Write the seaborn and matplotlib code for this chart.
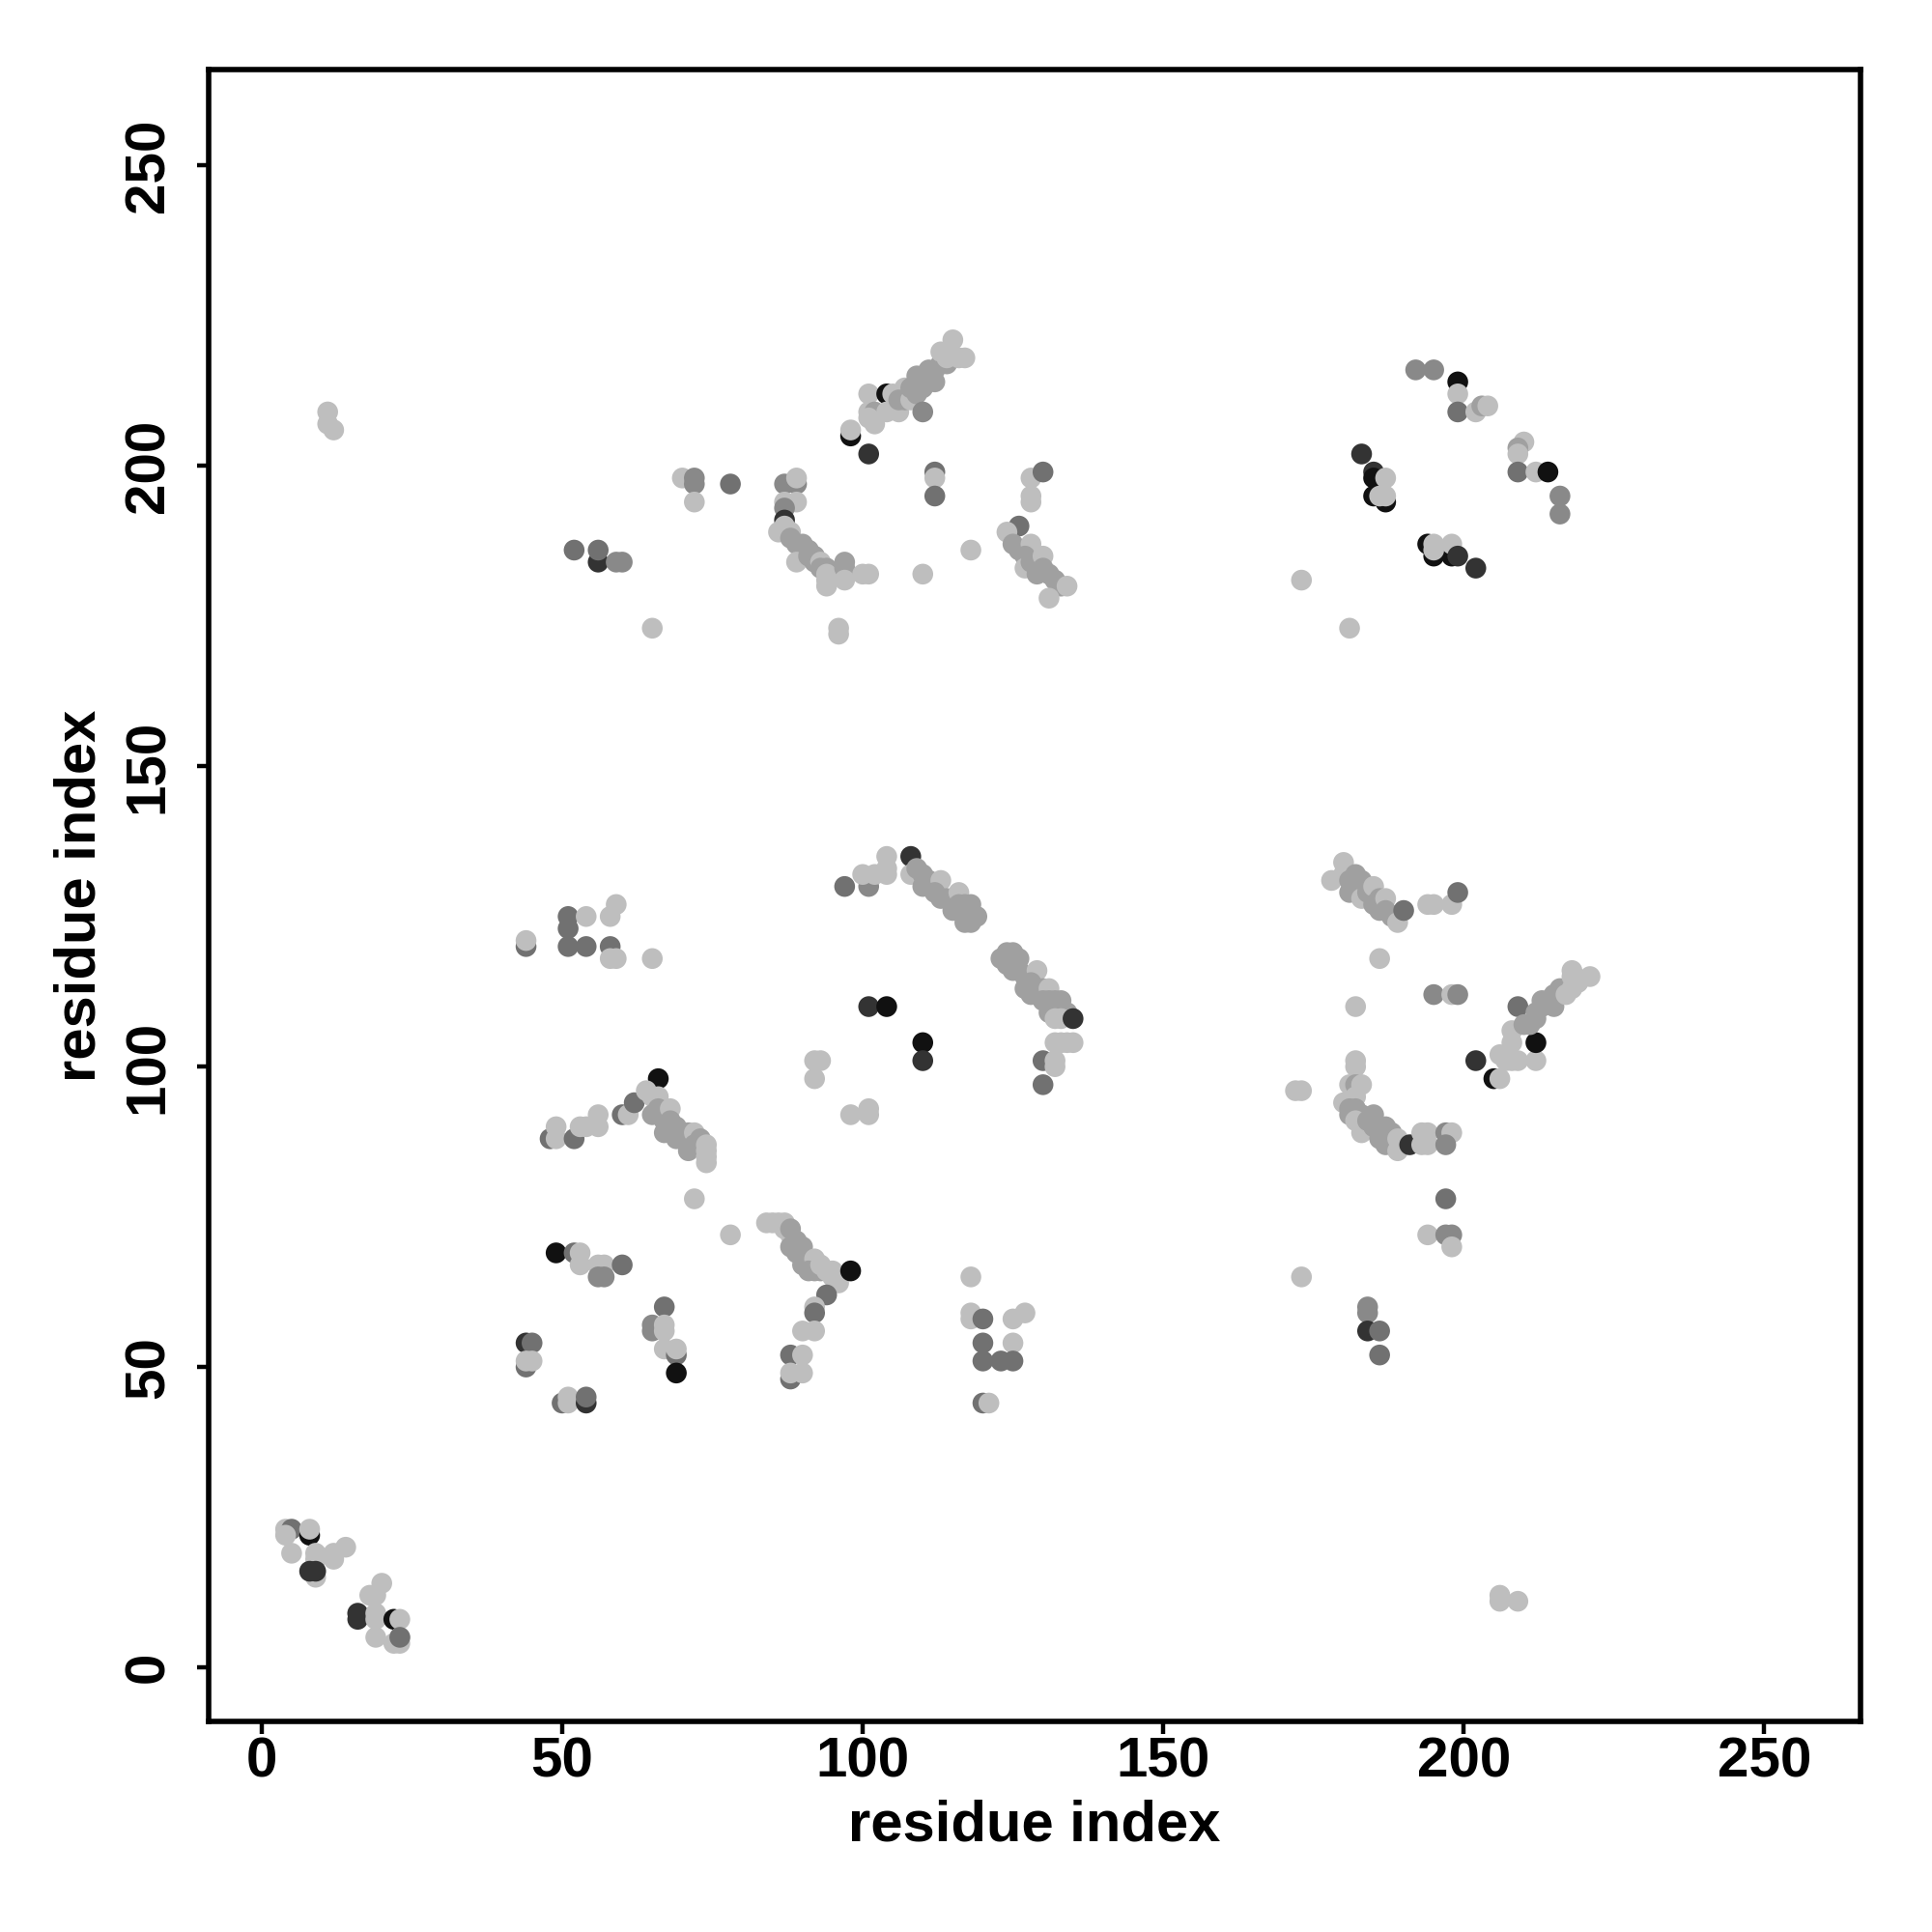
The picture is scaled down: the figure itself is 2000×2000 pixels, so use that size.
import pandas as pd
import seaborn as sns
import matplotlib.pyplot as plt

# contact points: (residue i, residue j, grey level)
# grey levels: L light, M mid, G grey, D dark grey, K near black, B black
n_term = [(4, 23, "L"), (5, 23, "D"), (4, 22, "L"), (8, 22, "B"), (8, 23, "L"),
          (5, 19, "L"), (9, 19, "L"), (9, 18, "L"), (12, 19, "L"), (14, 20, "L"),
          (12, 18, "L"), (9, 15, "L"), (8, 16, "K"), (9, 16, "K"), (20, 14, "L"),
          (18, 12, "L"), (19, 12, "L"), (16, 9, "L"), (16, 9, "K"), (16, 8, "K"),
          (19, 9, "L"), (19, 8, "L"), (22, 8, "B"), (23, 8, "L"), (19, 5, "L"),
          (22, 4, "L"), (23, 4, "L"), (23, 5, "L"), (23, 5, "D")]

lone = [(11, 209, "L"), (11, 207, "L"), (12, 206, "L"),
        (206, 12, "L"), (206, 11, "L"), (209, 11, "L"),
        (72, 78, "L"), (78, 72, "L"), (118, 65, "L"), (173, 65, "L"),
        (65, 173, "L"), (173, 181, "L"), (181, 173, "L"), (110, 182, "L"),
        (118, 186, "L"), (96, 173, "L"), (96, 172, "L"), (65, 118, "L"),
        (186, 118, "L"), (182, 110, "L")]

b1_upper = [(44, 120, "D"), (44, 121, "L"), (51, 125, "D"), (51, 123, "D"),
            (51, 120, "D"), (54, 125, "L"), (54, 120, "D"), (59, 127, "L"),
            (58, 125, "L"), (58, 120, "D"), (58, 118, "L"), (59, 118, "L")]

b1_lower = [(48, 88, "D"), (49, 88, "L"), (49, 90, "L"), (52, 88, "D"),
            (53, 90, "L"), (54, 90, "L"), (56, 92, "L"), (56, 90, "L"),
            (60, 92, "D"), (61, 92, "L"), (62, 94, "D"), (66, 98, "B"),
            (64, 96, "L"), (65, 95, "L"), (66, 95, "L"), (65, 92, "M"),
            (66, 93, "M"), (67, 91, "M"), (68, 93, "L"), (68, 91, "M"),
            (67, 89, "M"), (69, 90, "M"), (69, 88, "M"), (70, 89, "M"),
            (71, 89, "M"), (71, 86, "M"), (72, 89, "L"), (72, 87, "M"),
            (73, 88, "M"), (74, 87, "L"), (74, 86, "L"), (74, 85, "L"), (74, 84, "L")]

b2_left = [(49, 69, "B"), (52, 69, "D"), (53, 69, "L"), (53, 67, "L"),
           (56, 67, "L"), (57, 67, "L"), (56, 65, "G"), (57, 65, "G"),
           (60, 67, "D"), (44, 54, "K"), (45, 54, "D"), (44, 50, "D"),
           (44, 51, "L"), (45, 51, "L"), (50, 44, "D"), (51, 45, "L"),
           (51, 44, "L"), (54, 44, "K"), (54, 45, "D"), (67, 60, "D"),
           (65, 57, "G"), (65, 56, "G"), (67, 57, "L"), (67, 56, "L"),
           (67, 53, "L"), (69, 52, "D"), (69, 53, "L"), (69, 49, "B")]

b2_right = [(84, 74, "L"), (85, 74, "L"), (86, 74, "L"), (87, 74, "L"),
            (87, 73, "L"), (88, 72, "L"), (88, 73, "M"), (89, 71, "M"),
            (88, 70, "M"), (90, 70, "M"), (89, 69, "M"), (90, 69, "M"),
            (91, 68, "M"), (90, 67, "M"), (92, 68, "L"), (91, 66, "M"),
            (92, 66, "M"), (93, 66, "M"), (93, 67, "L"), (94, 66, "L"),
            (95, 66, "L"), (95, 65, "L"), (96, 64, "L"), (98, 66, "B"),
            (94, 62, "D"), (92, 60, "L"), (92, 59, "D"), (90, 56, "L"),
            (92, 56, "L"), (88, 52, "D"), (90, 52, "L"), (88, 48, "D"),
            (88, 49, "L"), (90, 49, "L")]

b3_helix = [(97, 130, "D"), (101, 130, "G"), (100, 132, "L"), (102, 132, "L"),
            (104, 135, "L"), (104, 133, "L"), (104, 132, "L"), (108, 135, "K"),
            (108, 132, "L"), (109, 133, "M"), (110, 132, "M"), (111, 131, "M"),
            (110, 130, "M"), (113, 131, "L"), (112, 129, "M"), (113, 128, "M"),
            (114, 128, "M"), (115, 128, "M"), (116, 129, "L"), (115, 126, "M"),
            (116, 127, "M"), (117, 127, "M"), (118, 127, "M"), (117, 125, "M"),
            (118, 125, "M"), (119, 125, "M"), (117, 124, "M"), (118, 124, "M"),
            (123, 118, "M"), (124, 119, "M"), (125, 119, "M"), (124, 117, "M"),
            (125, 117, "M"), (126, 118, "M"), (125, 116, "M"), (126, 116, "M"),
            (127, 115, "M"), (129, 116, "L"), (127, 113, "M"), (128, 114, "M"),
            (128, 112, "M"), (129, 113, "M"), (130, 113, "M"), (131, 113, "L"),
            (130, 111, "M"), (131, 111, "M"), (132, 111, "M"), (133, 111, "M"),
            (131, 109, "M"), (132, 110, "M"), (133, 109, "M"), (134, 109, "M"),
            (132, 108, "L"), (133, 108, "L"), (135, 108, "K"), (132, 104, "L"),
            (133, 104, "L"), (134, 104, "L"), (135, 104, "L"), (130, 101, "D"),
            (132, 101, "L"), (132, 100, "L"), (130, 97, "D")]

b3_core = [(101, 110, "K"), (104, 110, "B"), (110, 104, "B"), (110, 101, "K"),
           (92, 101, "L"), (93, 101, "L"), (92, 98, "L"), (98, 92, "L"),
           (101, 93, "L"), (101, 92, "L")]

b4 = [(118, 59, "L"), (118, 58, "L"), (120, 58, "D"), (125, 58, "L"),
      (127, 59, "L"), (120, 54, "D"), (125, 54, "L"), (120, 51, "D"),
      (123, 51, "D"), (125, 51, "D"), (120, 44, "D"), (121, 44, "L")]

top_left = [(52, 186, "D"), (56, 184, "K"), (56, 186, "D"), (59, 184, "G"),
            (60, 184, "G"), (70, 198, "L"), (72, 198, "G"), (72, 197, "G"),
            (72, 194, "L"), (78, 197, "D"), (87, 197, "G"), (89, 197, "G"),
            (89, 198, "L"), (87, 194, "L"), (89, 194, "L"), (87, 193, "G"),
            (87, 191, "K"), (87, 190, "L"), (86, 189, "L"), (88, 189, "L"),
            (88, 188, "M"), (89, 187, "M"), (90, 187, "M"), (90, 186, "M"),
            (91, 186, "M"), (89, 184, "L"), (91, 185, "M"), (92, 185, "M"),
            (92, 184, "M"), (93, 184, "L"), (93, 183, "M"), (94, 183, "M"),
            (94, 182, "L"), (94, 181, "L"), (94, 180, "L"), (97, 184, "M"),
            (97, 183, "M"), (97, 181, "L"), (100, 182, "L"), (101, 182, "L")]

top_mid = [(98, 205, "B"), (98, 206, "L"), (101, 202, "K"), (101, 212, "L"),
           (101, 209, "L"), (102, 209, "M"), (101, 208, "L"), (102, 207, "L"),
           (104, 212, "B"), (105, 212, "L"), (104, 209, "L"), (106, 209, "L"),
           (107, 213, "L"), (106, 211, "M"), (107, 211, "M"), (108, 211, "L"),
           (108, 213, "M"), (109, 212, "M"), (109, 215, "M"), (110, 213, "M"),
           (110, 214, "M"), (111, 216, "M"), (111, 214, "M"), (112, 214, "M"),
           (112, 216, "M"), (113, 217, "M"), (113, 219, "L"), (114, 217, "M"),
           (114, 218, "L"), (115, 221, "L"), (116, 218, "L"), (117, 218, "L"),
           (110, 209, "G"), (112, 199, "D"), (112, 198, "L"), (112, 195, "D"),
           (128, 198, "L"), (130, 199, "D"), (128, 195, "L"), (128, 194, "L"),
           (126, 190, "D"), (124, 189, "L"), (125, 187, "M"), (126, 186, "M"),
           (128, 187, "L"), (127, 185, "M"), (127, 183, "L"), (128, 184, "M"),
           (130, 185, "L"), (129, 182, "M"), (130, 183, "M"), (131, 182, "M"),
           (132, 181, "M"), (133, 180, "M"), (134, 180, "L"), (131, 178, "L")]

c_helix = [(178, 131, "L"), (180, 134, "L"), (180, 132, "L"), (181, 131, "M"),
           (181, 129, "M"), (182, 132, "M"), (182, 130, "M"), (183, 131, "M"),
           (183, 128, "L"), (184, 130, "M"), (184, 129, "M"), (185, 130, "L"),
           (185, 127, "M"), (186, 128, "M"), (186, 126, "M"), (187, 128, "L"),
           (187, 126, "M"), (188, 125, "M"), (189, 124, "L"), (190, 126, "D"),
           (194, 127, "L"), (195, 127, "L"), (198, 127, "L"), (199, 129, "D"),
           (195, 112, "G"), (198, 112, "L"), (199, 112, "G"),
           (202, 101, "K"), (205, 98, "B"), (206, 98, "L"), (206, 102, "L"),
           (207, 101, "L"), (208, 101, "L"), (209, 101, "L"), (212, 101, "L"),
           (212, 104, "B"), (208, 104, "L"), (208, 106, "L"), (209, 110, "D"),
           (210, 107, "M"), (211, 107, "M"), (212, 109, "M"), (212, 108, "M"),
           (213, 110, "M"), (213, 111, "M"), (214, 111, "M"), (215, 112, "M"),
           (215, 110, "M"), (216, 113, "M"), (216, 112, "M"), (217, 112, "L"),
           (218, 113, "L"), (218, 115, "L"), (218, 116, "L"), (221, 115, "L"),
           (219, 114, "L")]

c_lower = [(182, 101, "L"), (182, 100, "L"), (172, 96, "L"), (173, 96, "L"),
           (181, 97, "L"), (182, 97, "M"), (183, 97, "L"), (182, 95, "L"),
           (180, 94, "L"), (181, 93, "M"), (182, 93, "M"), (181, 92, "M"),
           (183, 92, "M"), (182, 91, "L"), (183, 89, "L"), (184, 91, "M"),
           (185, 92, "M"), (185, 90, "M"), (186, 90, "M"), (187, 90, "M"),
           (186, 88, "M"), (187, 87, "M"), (188, 89, "M"), (189, 88, "L"),
           (189, 86, "L"), (191, 87, "K"), (193, 89, "L"), (194, 89, "L"),
           (193, 87, "L"), (194, 87, "L"), (197, 89, "G"), (198, 89, "L"),
           (197, 87, "G"), (197, 78, "D"), (194, 72, "L"), (197, 72, "G"),
           (198, 72, "G"), (198, 70, "L"), (184, 60, "G"), (184, 59, "G"),
           (184, 56, "K"), (186, 56, "D"), (186, 52, "D")]

c_top = [(192, 216, "G"), (195, 216, "G"), (199, 214, "B"), (199, 212, "L"),
         (199, 209, "D"), (202, 209, "L"), (203, 210, "M"), (204, 210, "L"),
         (183, 202, "K"), (185, 199, "K"), (185, 198, "B"), (187, 198, "L"),
         (185, 195, "B"), (187, 194, "B"), (186, 195, "L"), (187, 195, "L"),
         (210, 204, "L"), (209, 203, "M"), (209, 202, "L"), (209, 199, "D"),
         (212, 199, "L"), (214, 199, "B"), (216, 195, "G"), (216, 192, "G"),
         (194, 187, "B"), (195, 185, "B"), (198, 185, "B"), (195, 187, "L"),
         (195, 186, "L"), (198, 187, "L"), (199, 185, "K"), (202, 183, "K")]

grey = {"L": "#bebebe", "M": "#a0a0a0", "G": "#898989",
        "D": "#717171", "K": "#333333", "B": "#111111"}

ticks = [0, 50, 100, 150, 200, 250]

sns.set_style("ticks")
plt.rcParams["font.family"] = ["Liberation Sans", "DejaVu Sans"]

clusters = [n_term, lone, b1_upper, b1_lower, b2_left, b2_right, b3_helix,
            b3_core, b4, top_left, top_mid, c_helix, c_lower, c_top]
df = pd.DataFrame([p for c in clusters for p in c], columns=["i", "j", "level"])

fig = plt.figure(figsize=(10, 10), dpi=200)
ax = fig.add_axes([0.108, 0.109, 0.855, 0.855])
sns.scatterplot(data=df, x="i", y="j", hue="level", palette=grey,
                s=60, linewidth=0, legend=False, ax=ax)

ax.set_xlim(-8.8, 266)
ax.set_ylim(-9, 266)
ax.set_xticks(ticks)
ax.set_yticks(ticks)
ax.tick_params(length=4.5, width=1.6, labelsize=21, colors="black")
ax.tick_params(axis="x", pad=1)
ax.tick_params(axis="y", pad=8)
for lab in ax.get_xticklabels() + ax.get_yticklabels():
    lab.set_fontweight("bold")
plt.setp(ax.get_yticklabels(), rotation=90, va="center")
for sp in ax.spines.values():
    sp.set_visible(True)
    sp.set_linewidth(2.0)
    sp.set_color("black")

ax.set_xlabel("residue index", fontsize=21.5, fontweight="bold",
              color="black", labelpad=4)
ax.set_ylabel("residue index", fontsize=21.5, fontweight="bold",
              color="black", labelpad=6)

fig.savefig("out.png", dpi=200)
